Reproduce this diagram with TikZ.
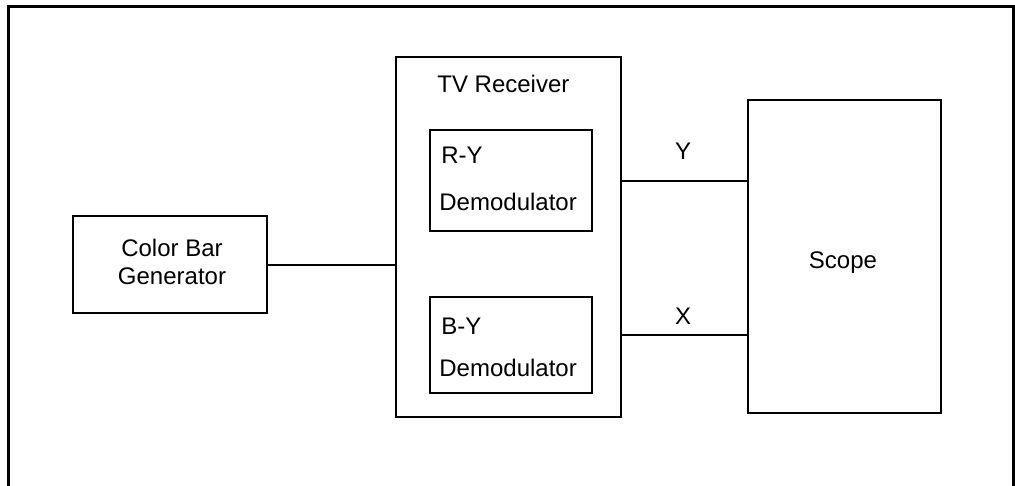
\documentclass[tikz,border=0pt]{standalone}
\usepackage{fontspec}
\setmainfont{Liberation Sans}
\begin{document}
\begin{tikzpicture}[x=0.5pt,y=-0.5pt,
  blk/.style={draw,line width=1pt,inner sep=0pt},
  lbl/.style={inner sep=0pt,font=\fontsize{12}{14}\selectfont},
  wire/.style={line width=1pt}]
\useasboundingbox (0,0) rectangle (1015,486);
\draw[line width=1.5pt] (8,486) -- (8,7) -- (1013,7) -- (1013,486);
% boxes
\node[blk,minimum width=97pt,minimum height=48.5pt] (CBG) at (170,264.5) {};
\node[blk,minimum width=112.5pt,minimum height=180pt] (TV) at (508.5,237) {};
\node[blk,minimum width=81pt,minimum height=50.5pt] (RY) at (511,180.5) {};
\node[blk,minimum width=81pt,minimum height=48pt] (BY) at (511,345) {};
\node[blk,minimum width=96.5pt,minimum height=156.5pt] (SC) at (844.5,256.5) {};
% texts
\node[lbl,align=center] (tCBG) at (172,262) {Color Bar\\Generator};
\node[lbl,anchor=base west] (tTV) at (437,93) {TV Receiver};
\node[lbl,anchor=base west] (tRY) at (441,163) {R-Y};
\node[lbl,anchor=base west] (tRYd) at (439,211) {Demodulator};
\node[lbl,anchor=base west] (tBY) at (441,334) {B-Y};
\node[lbl,anchor=base west] (tBYd) at (439,376) {Demodulator};
\node[lbl,anchor=base] (tY) at (683,160) {Y};
\node[lbl,anchor=base] (tX) at (683,324) {X};
\node[lbl] (tSC) at (843,263) {Scope};
% connectors
\coordinate (yl) at (0,181);
\coordinate (xl) at (0,335);
\draw[wire] (CBG.east) -- (CBG.east -| TV.west);
\draw[wire] (TV.east |- yl) -- (SC.west |- yl);
\draw[wire] (TV.east |- xl) -- (SC.west |- xl);
\end{tikzpicture}
\end{document}
